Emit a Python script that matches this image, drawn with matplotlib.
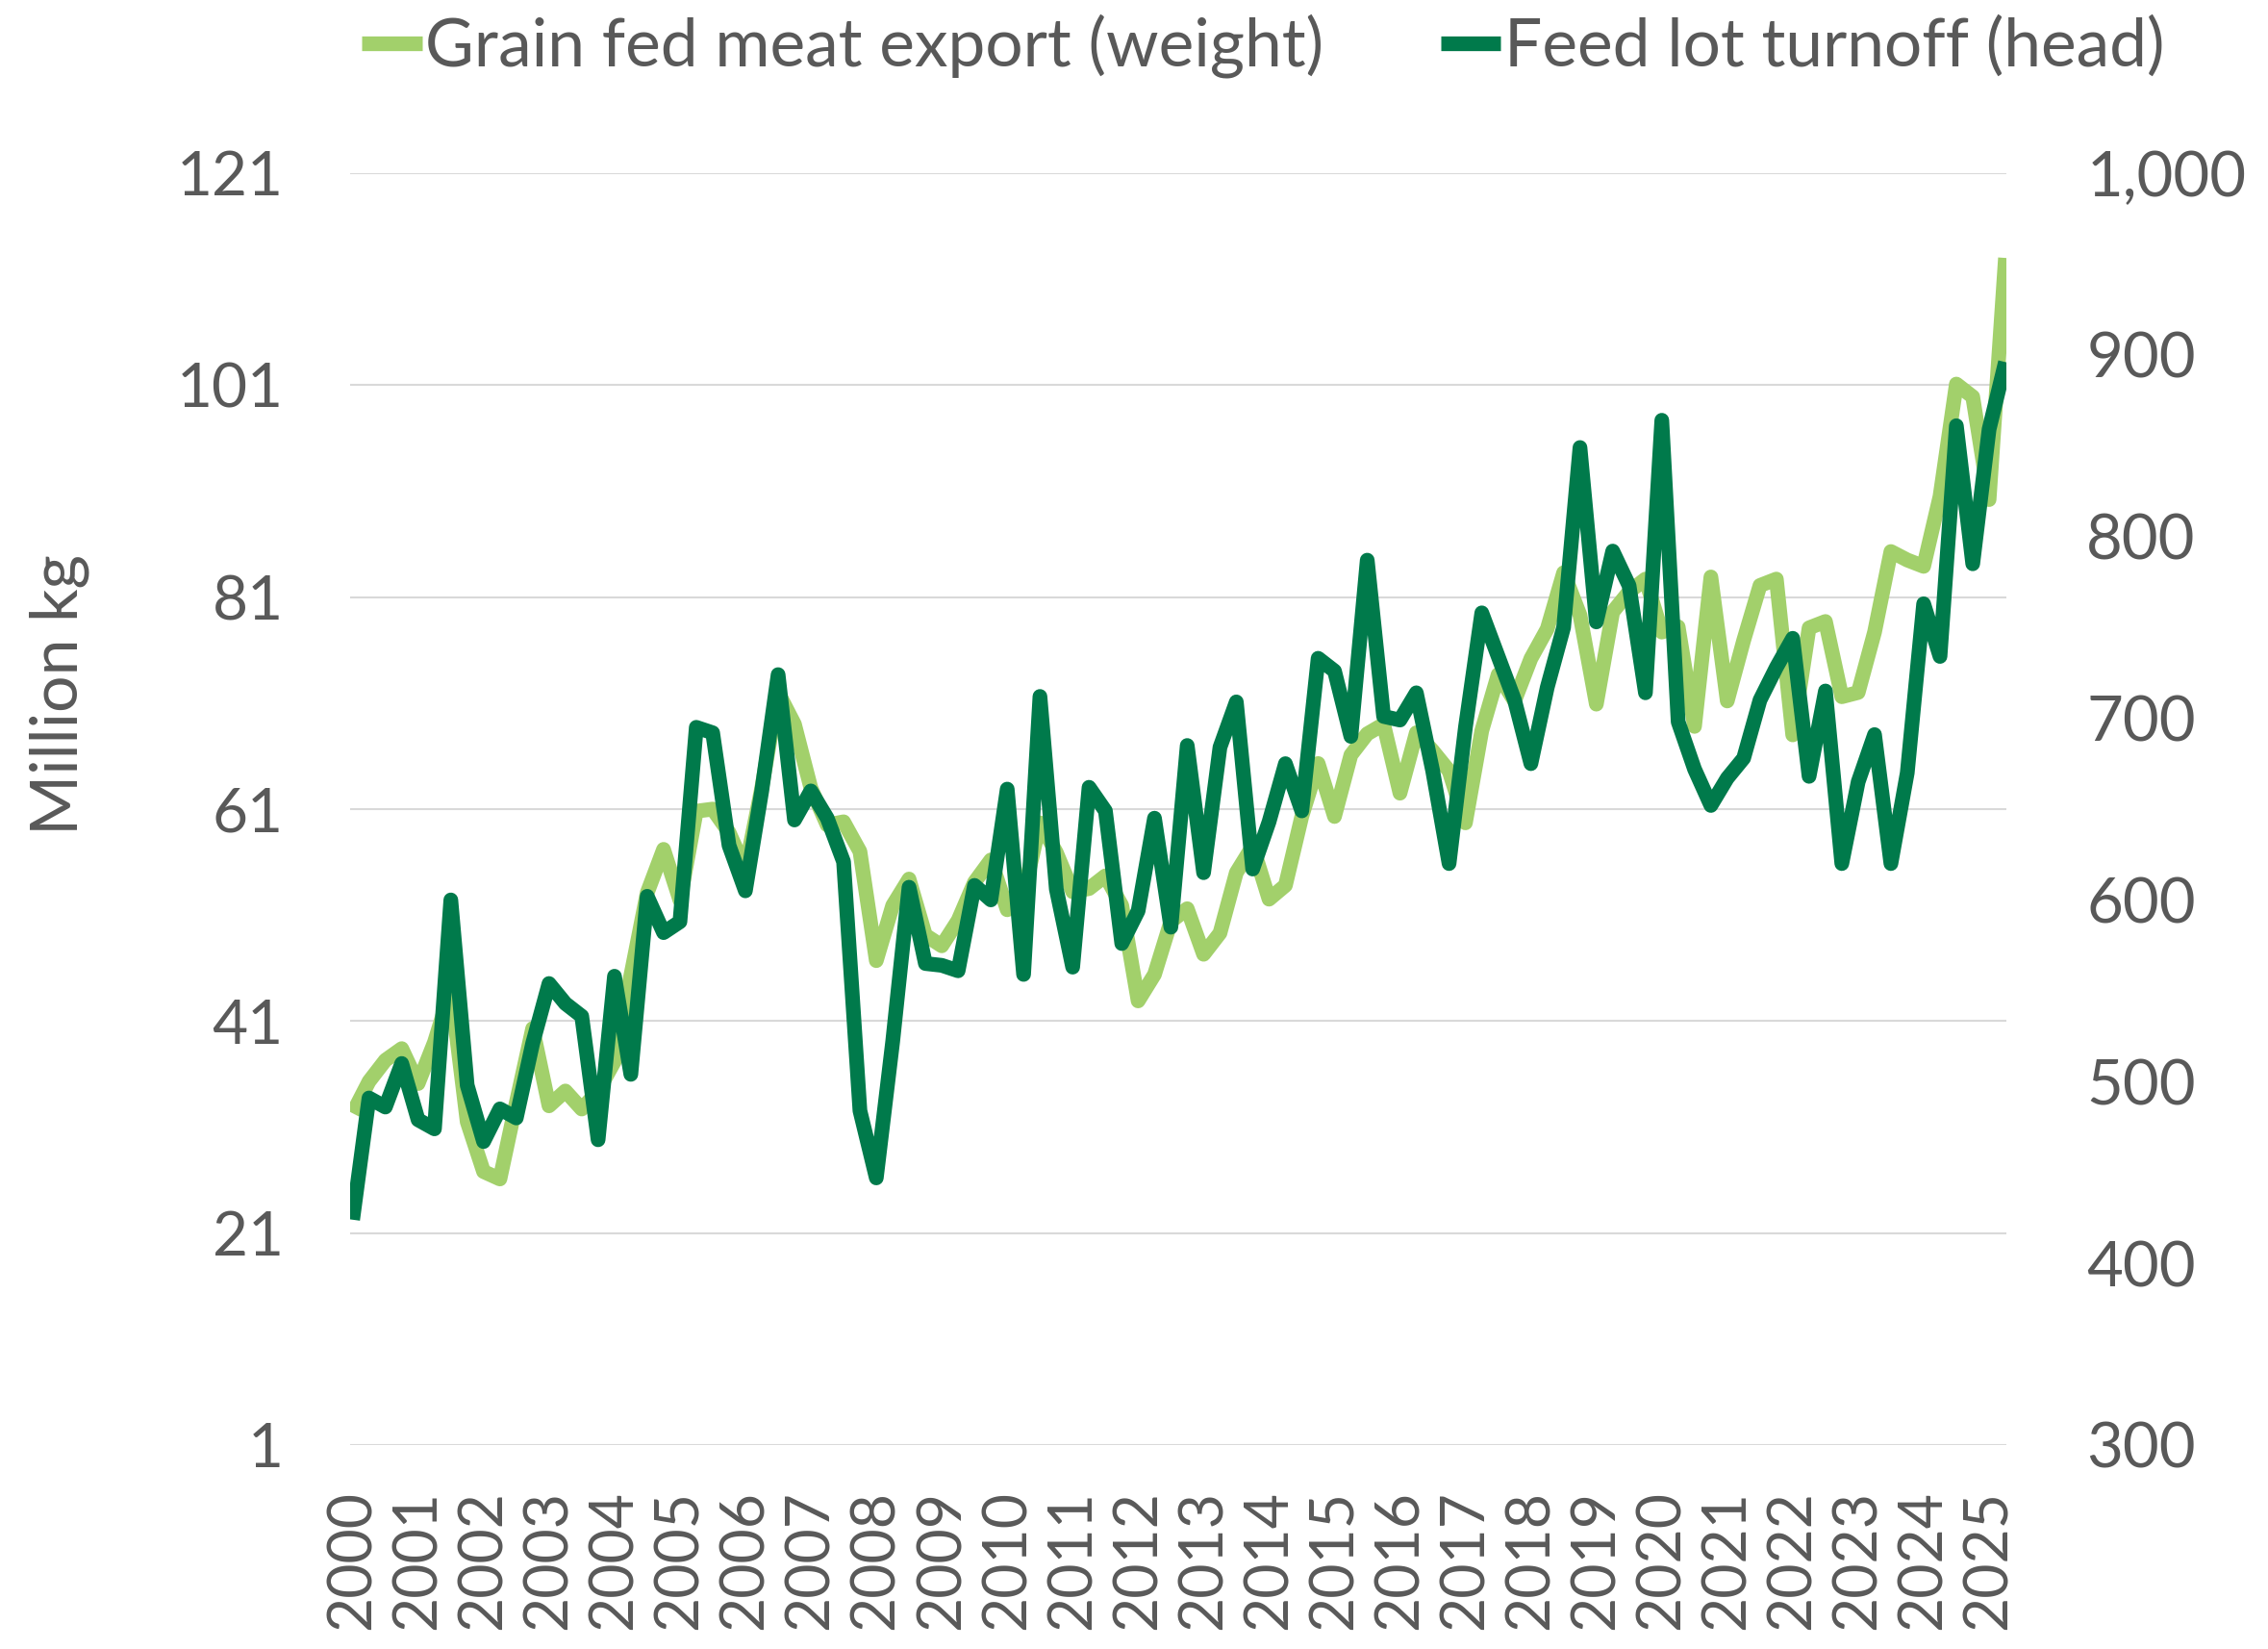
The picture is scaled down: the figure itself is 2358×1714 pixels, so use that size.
import matplotlib.pyplot as plt

# Quarterly series, 2000 Q1 .. 2025 Q2
years = [str(y) for y in range(2000, 2026)]

grain_fed_export = [  # million kg, left axis
    32.3, 35.3, 37.3, 38.4, 35.1, 39.0, 44.0, 31.5, 26.8, 26.1,
    33.3, 40.3, 33.0, 34.4, 32.7, 34.4, 37.2, 45.3, 53.1, 57.2,
    52.4, 60.8, 61.0, 58.8, 55.3, 63.0, 72.0, 69.0, 63.0, 59.5,
    59.8, 57.0, 46.7, 51.9, 54.4, 49.1, 48.1, 50.5, 54.1, 56.2,
    51.5, 53.0, 59.7, 56.9, 53.2, 53.5, 54.7, 51.9, 42.9, 45.4,
    50.4, 51.6, 47.3, 49.3, 55.0, 57.5, 52.5, 53.8, 60.3, 65.3,
    60.3, 66.1, 68.1, 69.0, 62.5, 68.2, 66.5, 64.6, 59.7, 68.4,
    73.7, 71.2, 75.2, 78.0, 83.3, 79.3, 70.9, 79.6, 81.5, 82.7,
    77.7, 78.2, 68.8, 82.9, 71.2, 76.9, 82.1, 82.7, 68.0, 78.1,
    78.7, 71.6, 72.0, 77.7, 85.3, 84.5, 83.9, 90.5, 101.1, 99.9,
    90.2, 113.0,
]

feedlot_turnoff = [  # thousand head, right axis
    424, 491, 486, 510, 479, 474, 600, 498, 467, 485,
    480, 521, 554, 543, 536, 468, 558, 504, 602, 582,
    588, 695, 692, 630, 605, 660, 724, 644, 660, 645,
    621, 484, 447, 522, 607, 565, 564, 561, 608, 600,
    661, 559, 712, 606, 563, 662, 649, 576, 594, 645,
    585, 685, 615, 684, 709, 617, 643, 675, 649, 733,
    726, 690, 787, 701, 699, 714, 671, 620, 695, 758,
    734, 710, 675, 717, 750, 849, 753, 792, 773, 714,
    864, 698, 672, 652, 667, 678, 710, 728, 744, 668,
    715, 620, 665, 691, 620, 670, 763, 734, 861, 785,
    859, 896,
]

quarters = list(range(len(grain_fed_export)))

LIGHT = "#A2D06B"
DARK = "#007A4B"
TEXT = "#595959"
GRID = "#D9D9D9"

plt.rcParams["font.family"] = ["Lato", "DejaVu Sans"]

fig = plt.figure(figsize=(23.58, 17.14), dpi=100)
ax = fig.add_axes([0.1544, 0.1237, 0.7302, 0.7713])
ax2 = ax.twinx()

ax.plot(quarters, grain_fed_export, color=LIGHT, linewidth=11,
        solid_joinstyle="round", solid_capstyle="butt",
        label="Grain fed meat export (weight)")
ax2.plot(quarters, feedlot_turnoff, color=DARK, linewidth=11,
         solid_joinstyle="round", solid_capstyle="butt",
         label="Feed lot turnoff (head)")

ax.set_xlim(-0.15, 101.05)
ax.set_ylim(1, 121)
ax2.set_ylim(300, 1000)

ax.set_yticks(range(1, 122, 20))
ax.set_yticklabels([str(v) for v in range(1, 122, 20)])
ax2.set_yticks(range(300, 1001, 100))
ax2.set_yticklabels([f"{v:,}" for v in range(300, 1001, 100)])
ax.set_xticks(range(0, 101, 4))
ax.set_xticklabels(years, rotation=90)

ax.grid(axis="y", color=GRID, linewidth=1.5)
ax.set_axisbelow(True)
for a in (ax, ax2):
    for s in a.spines.values():
        s.set_visible(False)

ax.tick_params(axis="y", length=0, pad=50, labelsize=46, labelcolor=TEXT)
ax2.tick_params(axis="y", length=0, pad=60, labelsize=47, labelcolor=TEXT)
ax.tick_params(axis="x", length=0, pad=34, labelsize=45, labelcolor=TEXT)

fig.text(0.026, 0.579, "Million kg", rotation=90, ha="center", va="center",
         fontsize=49, color=TEXT)

handles = ax.get_lines() + ax2.get_lines()
fig.legend(handles, [h.get_label() for h in handles], loc="center",
           bbox_to_anchor=(0.557, 0.972), ncol=2, frameon=False,
           fontsize=50, labelcolor=TEXT, handlelength=0.9,
           handletextpad=0.05, columnspacing=1.75)

fig.savefig("out.png", dpi=100)
